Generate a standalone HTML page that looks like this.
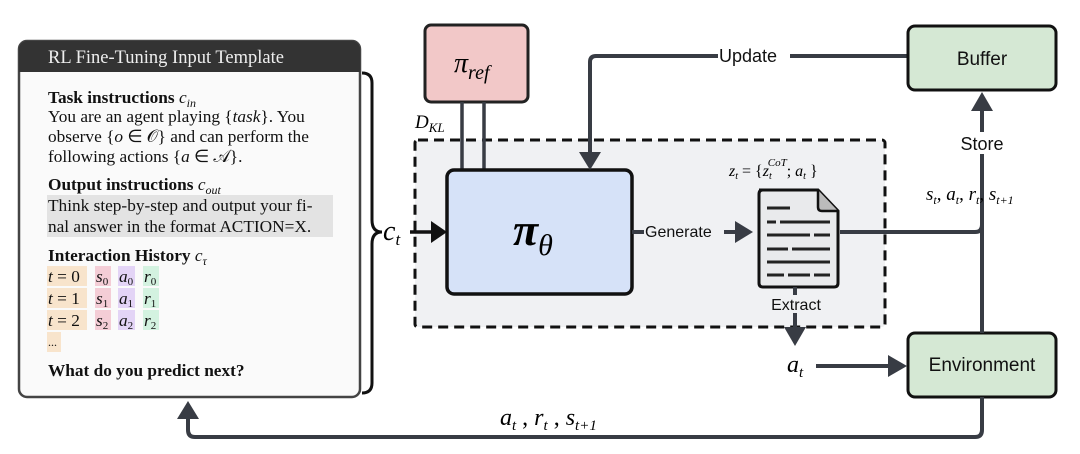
<!DOCTYPE html>
<html><head><meta charset="utf-8"><style>
body{margin:0;background:#fff;}
svg text{font-family:"Liberation Serif",serif;}
.s{font-family:"Liberation Sans",sans-serif;}
</style></head><body>
<svg width="1080" height="449" viewBox="0 0 1080 449" xmlns="http://www.w3.org/2000/svg">
<!-- template -->
<rect x="19" y="41" width="341" height="356" rx="8" fill="#fafafa" stroke="#444" stroke-width="2.5"/>
<path d="M19,72 V49 a8,8 0 0 1 8,-8 H352 a8,8 0 0 1 8,8 V72 z" fill="#333"/>
<text x="48" y="63" font-size="18.5" fill="#eee">RL Fine-Tuning Input Template</text>
<g font-size="17.3" fill="#111">
<text x="48" y="103" font-weight="bold">Task instructions <tspan font-style="italic" font-weight="normal">c<tspan font-size="12" dy="4">in</tspan></tspan></text>
<text x="48" y="122">You are an agent playing {<tspan font-style="italic">task</tspan>}. You</text>
<text x="48" y="142">observe {<tspan font-style="italic">o</tspan> ∈ 𝒪} and can perform the</text>
<text x="48" y="162">following actions {<tspan font-style="italic">a</tspan> ∈ 𝒜}.</text>
<text x="48" y="190" font-weight="bold">Output instructions <tspan font-style="italic" font-weight="normal">c<tspan font-size="12" dy="4">out</tspan></tspan></text>
<rect x="47" y="195" width="286" height="42" fill="#e3e3e3"/>
<text x="48" y="211">Think step-by-step and output your fi-</text>
<text x="48" y="232">nal answer in the format ACTION=X.</text>
<text x="48" y="261" font-weight="bold">Interaction History <tspan font-style="italic" font-weight="normal">c<tspan font-size="12" dy="4">τ</tspan></tspan></text>
<rect x="47" y="266" width="40" height="20" fill="#f8e4cc"/><rect x="95" y="266" width="16" height="20" fill="#f4cdd6"/><rect x="118" y="266" width="17" height="20" fill="#e3d4f6"/><rect x="143" y="266" width="16" height="20" fill="#d3f2e0"/>
<rect x="47" y="288" width="40" height="20" fill="#f8e4cc"/><rect x="95" y="288" width="16" height="20" fill="#f4cdd6"/><rect x="118" y="288" width="17" height="20" fill="#e3d4f6"/><rect x="143" y="288" width="16" height="20" fill="#d3f2e0"/>
<rect x="47" y="310" width="40" height="20" fill="#f8e4cc"/><rect x="95" y="310" width="16" height="20" fill="#f4cdd6"/><rect x="118" y="310" width="17" height="20" fill="#e3d4f6"/><rect x="143" y="310" width="16" height="20" fill="#d3f2e0"/>
<rect x="47" y="332" width="14" height="20" fill="#f8e4cc"/>
<text x="48" y="282"><tspan font-style="italic">t</tspan> = 0</text><text x="96" y="282" font-style="italic">s<tspan font-size="11" dy="3" font-style="normal">0</tspan></text><text x="119" y="282" font-style="italic">a<tspan font-size="11" dy="3" font-style="normal">0</tspan></text><text x="144" y="282" font-style="italic">r<tspan font-size="11" dy="3" font-style="normal">0</tspan></text>
<text x="48" y="304"><tspan font-style="italic">t</tspan> = 1</text><text x="96" y="304" font-style="italic">s<tspan font-size="11" dy="3" font-style="normal">1</tspan></text><text x="119" y="304" font-style="italic">a<tspan font-size="11" dy="3" font-style="normal">1</tspan></text><text x="144" y="304" font-style="italic">r<tspan font-size="11" dy="3" font-style="normal">1</tspan></text>
<text x="48" y="326"><tspan font-style="italic">t</tspan> = 2</text><text x="96" y="326" font-style="italic">s<tspan font-size="11" dy="3" font-style="normal">2</tspan></text><text x="119" y="326" font-style="italic">a<tspan font-size="11" dy="3" font-style="normal">2</tspan></text><text x="144" y="326" font-style="italic">r<tspan font-size="11" dy="3" font-style="normal">2</tspan></text>
<text x="48" y="346" font-size="12">...</text>
<text x="48" y="376" font-weight="bold">What do you predict next?</text>
</g>
<!-- brace -->
<path d="M362,73 q10,0 10,10 V220 q0,12 10,12 q-10,0 -10,12 V383 q0,10 -10,10" fill="none" stroke="#111" stroke-width="3"/>
<text x="383" y="240" font-size="28" font-style="italic">c<tspan font-size="17" dy="5">t</tspan></text>
<!-- dashed box -->
<rect x="415" y="140" width="470" height="187" rx="3" fill="#f0f1f3" stroke="#111" stroke-width="3" stroke-dasharray="10,6"/>
<!-- pi ref -->
<rect x="425" y="25" width="103" height="77" rx="6" fill="#f2c8c8" stroke="#222" stroke-width="3"/>
<text x="454" y="72" font-size="28" font-style="italic">π<tspan font-size="20" dy="7">ref</tspan></text>
<line x1="462" y1="102" x2="462" y2="170" stroke="#383c44" stroke-width="3.5"/>
<line x1="484" y1="102" x2="484" y2="170" stroke="#383c44" stroke-width="3.5"/>
<text x="415" y="128" font-size="19" font-style="italic">D<tspan font-size="13" dy="4">KL</tspan></text>
<!-- c_t arrow -->
<line x1="410" y1="232" x2="434" y2="232" stroke="#111" stroke-width="3.5"/>
<polygon points="431,221 447,232 431,243" fill="#111"/>
<!-- pi theta -->
<rect x="447" y="170" width="185" height="124" rx="7" fill="#d6e2f8" stroke="#111" stroke-width="3.5"/>
<text x="513" y="245" font-size="46" font-style="italic" font-weight="bold">π<tspan font-size="30" font-weight="normal" dy="10">θ</tspan></text>
<!-- Update -->
<path d="M908,56 H596 q-6,0 -6,6 V154" fill="none" stroke="#383c44" stroke-width="4"/>
<polygon points="579,152 601,152 590,170" fill="#383c44"/>
<rect x="718" y="44" width="72" height="22" fill="#fff"/>
<text class="s" x="719" y="62" font-size="18" fill="#111">Update</text>
<!-- Buffer / Env -->
<rect x="908" y="26" width="148" height="64" rx="7" fill="#d5e8d4" stroke="#111" stroke-width="3"/>
<text class="s" x="982" y="65" font-size="19" text-anchor="middle" fill="#111">Buffer</text>
<rect x="908" y="333" width="148" height="64" rx="7" fill="#d5e8d4" stroke="#111" stroke-width="3"/>
<text class="s" x="982" y="371" font-size="19" text-anchor="middle" fill="#111">Environment</text>
<!-- Generate -->
<line x1="632" y1="232" x2="738" y2="232" stroke="#383c44" stroke-width="4"/>
<polygon points="735,221 753,232 735,243" fill="#383c44"/>
<rect x="644" y="222" width="80" height="18" fill="#f0f1f3"/>
<text class="s" x="645" y="237" font-size="16" fill="#111">Generate</text>
<!-- doc -->
<path d="M759,190 H818 L838,211 V283 q0,4 -4,4 H763 q-4,0 -4,-4 V194 q0,-4 4,-4" fill="#e9eaec" stroke="#111" stroke-width="3"/>
<path d="M818,190 V207 q0,4 4,4 H838" fill="#bbb" stroke="#111" stroke-width="2.5"/>
<g stroke="#222" stroke-width="3">
<line x1="767" y1="208" x2="790" y2="208"/>
<line x1="767" y1="222" x2="776" y2="222"/><line x1="780" y1="222" x2="830" y2="222"/>
<line x1="767" y1="235" x2="810" y2="235"/><line x1="814" y1="235" x2="830" y2="235"/>
<line x1="767" y1="249" x2="788" y2="249"/><line x1="792" y1="249" x2="830" y2="249"/>
<line x1="767" y1="262" x2="830" y2="262"/>
<line x1="767" y1="275" x2="784" y2="275"/><line x1="788" y1="275" x2="810" y2="275"/><line x1="814" y1="275" x2="830" y2="275"/>
</g>
<text x="729" y="176" font-size="16" font-style="italic">z<tspan font-size="10" dy="3">t</tspan><tspan dy="-3" font-style="normal"> = {</tspan>z<tspan font-size="10" dy="3">t</tspan><tspan font-size="11" dx="-4" dy="-13">CoT</tspan><tspan dy="10" font-style="normal">; </tspan>a<tspan font-size="10" dy="3">t</tspan><tspan dy="-3" font-style="normal"> }</tspan></text>
<!-- doc to store line -->
<path d="M840,232 H975 q7,0 7,-7" fill="none" stroke="#383c44" stroke-width="4"/>
<line x1="982" y1="333" x2="982" y2="108" stroke="#383c44" stroke-width="4"/>
<polygon points="971,111 993,111 982,92" fill="#383c44"/>
<rect x="955" y="132" width="54" height="22" fill="#fff"/>
<text class="s" x="982" y="150" font-size="18" text-anchor="middle" fill="#111">Store</text>
<text x="926" y="200" font-size="19" font-style="italic">s<tspan font-size="12" dy="4">t</tspan><tspan dy="-4" font-style="normal">, </tspan>a<tspan font-size="12" dy="4">t</tspan><tspan dy="-4" font-style="normal">,  </tspan>r<tspan font-size="12" dy="4">t</tspan><tspan dy="-4" font-style="normal">, </tspan>s<tspan font-size="12" dy="4">t+1</tspan></text>
<!-- extract -->
<line x1="795" y1="287" x2="795" y2="330" stroke="#383c44" stroke-width="4"/>
<polygon points="784,327 806,327 795,346" fill="#383c44"/>
<rect x="765" y="295" width="62" height="18" fill="#f0f1f3"/>
<text class="s" x="796" y="310" font-size="16" text-anchor="middle" fill="#111">Extract</text>
<text x="787" y="372" font-size="24" font-style="italic">a<tspan font-size="15" dy="5">t</tspan></text>
<line x1="816" y1="366" x2="892" y2="366" stroke="#383c44" stroke-width="4"/>
<polygon points="888,355 907,366 888,377" fill="#383c44"/>
<!-- bottom loop -->
<path d="M982,397 V430 q0,7 -7,7 H195 q-7,0 -7,-7 V416" fill="none" stroke="#383c44" stroke-width="4"/>
<polygon points="177,419 199,419 188,401" fill="#383c44"/>
<text x="500" y="425" font-size="24" font-style="italic">a<tspan font-size="15" dy="5">t</tspan><tspan dy="-5" font-style="normal"> , </tspan>r<tspan font-size="15" dy="5">t</tspan><tspan dy="-5" font-style="normal"> , </tspan>s<tspan font-size="15" dy="5">t+1</tspan></text>
</svg>
</body></html>
